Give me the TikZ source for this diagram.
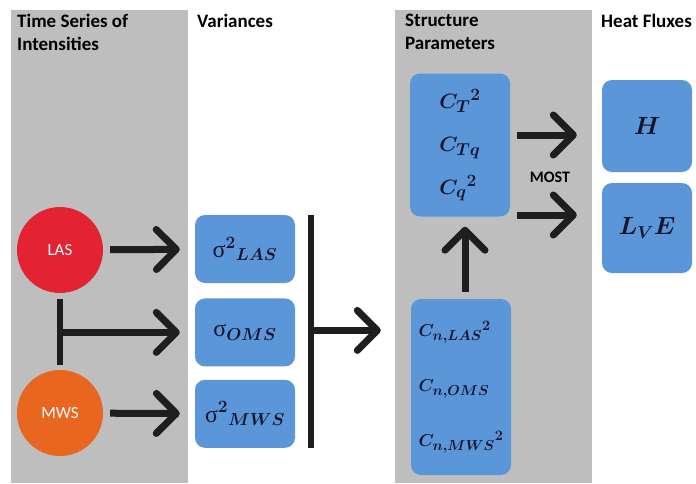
\documentclass[tikz,border=0pt]{standalone}
\usepackage{fontspec}
\setmainfont{Carlito}
\newfontfamily\grk{Liberation Serif}
\usepackage{tikz}
\usetikzlibrary{arrows.meta,positioning}
\DeclareMathSizes{18}{18}{14}{11}
\DeclareMathSizes{20}{20}{16}{13}
\DeclareMathSizes{24}{24}{18}{14}
\DeclareMathSizes{26}{26}{19}{15}
\definecolor{panelgray}{HTML}{BEBEBE}
\definecolor{boxblue}{HTML}{5B96D8}
\definecolor{lasred}{HTML}{E32232}
\definecolor{mwsorange}{HTML}{E8661F}
\definecolor{mathink}{HTML}{15152E}
\definecolor{arrowink}{HTML}{1E1E1E}

\begin{document}
\begin{tikzpicture}[
    x=1pt, y=-1pt,
    >={Straight Barb[length=20pt,width=40pt,round]},
    heading/.style={
		anchor=north west,
		align=left,
		inner sep=0pt,
		font=\fontsize{19}{23}\selectfont\bfseries
	},
    sensor/.style={
		circle,
		minimum size=86pt,
		inner sep=0pt,
		text=white,
		font=\fontsize{17}{20}\selectfont
	},
    varbox/.style={
		rectangle,
		rounded corners=10pt,
		fill=boxblue,
		text=mathink,
		minimum width=100pt,
		minimum height=68pt,
		font=\fontsize{24}{28}\selectfont\boldmath
	},
    parbox/.style={
		varbox,
		align=left,
		inner xsep=2pt,
		minimum width=100pt
	},
    fluxbox/.style={
		varbox,
		minimum width=90pt,
		font=\fontsize{26}{30}\selectfont\boldmath
	},
    flow/.style={
		->,
		draw=arrowink,
		line width=7pt
	},
    bar/.style={
		draw=arrowink,
		line width=6pt
	}
  ]
  \useasboundingbox (0,0) rectangle (696,483);
  % grey panels behind columns 1 and 3
  \fill[panelgray] (11,10) rectangle (188,483);
  \fill[panelgray] (395,10) rectangle (592,483);

  % column headings
  \node [heading] (hseries) at (17,14) {Time Series of\\Intensities};
  \node [heading] (hvar) at (197,14) {Variances};
  \node [heading] (hstruct) at (405,14) {Structure\\Parameters};
  \node [heading] (hflux) at (601,14) {Heat Fluxes};

  % sensors
  \node [sensor, fill=lasred] (las) at (60,250) {LAS};
  \node [sensor, fill=mwsorange] (mws) at (60,413) {MWS};

  % variances
  \node [varbox] (vlas) at (245,249) {${\hbox{\grk σ}^2}_{LAS}$};
  \node [varbox, below=15pt of vlas] (voms) {$\hbox{\grk σ}_{OMS}$};
  \node [varbox, below=13pt of voms] (vmws) {${\hbox{\grk σ}^2}_{MWS}$};

  % structure parameters
  \node [parbox, minimum height=143pt, font=\fontsize{20}{43}\selectfont\boldmath] (ct) at (460,145)
  {${C_T}^2$\\$C_{Tq}$\\${C_q}^2$};
  \node [parbox, minimum height=176pt, font=\fontsize{18}{55}\selectfont\boldmath] (cn) at (461,387)
  {${C_{n,LAS}}^2$\\$C_{n,OMS}$\\${C_{n,MWS}}^2$};

  % heat fluxes
  \node [fluxbox, minimum height=92pt] (h) at (647,126) {$H$};
  \node [fluxbox, minimum height=90pt] (lve) at (647,228) {$L_V E$};
  \node [font=\fontsize{16}{19}\selectfont\bfseries] (most) at (550,177) {MOST};

  % connectors
  \draw [flow, shorten <=7pt, shorten >=15pt] (las) -- (vlas);
  \draw [flow, shorten <=7pt, shorten >=15pt] (mws) -- (vmws);
  \draw [bar] ([yshift=-6pt]las.south) -- ([yshift=5pt]mws.north);
  \draw [flow, shorten >=15pt] (las.south |- voms.west) -- (voms.west);

  \coordinate (bartop) at ([xshift=16pt]vlas.north east);
  \coordinate (barbot) at ([xshift=16pt]vmws.south east);
  \draw [bar] (bartop) -- (barbot);
  \draw [flow, shorten >=30pt] ([yshift=2pt]bartop |- voms.west) -- ([yshift=2pt]voms.west -| cn.west);

  \draw [flow, shorten <=7pt, shorten >=10pt] ([xshift=4pt]cn.north) -- ([xshift=4pt]cn.north |- ct.south);
  \draw [flow, shorten <=7pt, shorten >=25pt] ([yshift=-9pt]h.west -| ct.east) -- ([yshift=-9pt]h.west);
  \draw [flow, shorten <=7pt, shorten >=25pt] ([yshift=13pt]lve.west -| ct.east) -- ([yshift=13pt]lve.west);
\end{tikzpicture}
\end{document}
